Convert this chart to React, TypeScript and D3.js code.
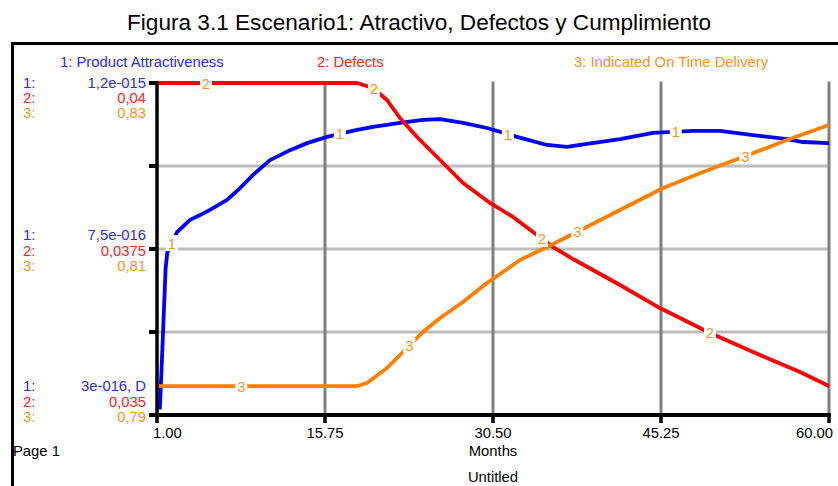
import React from 'react';
import * as d3 from 'd3';

const W = 838;
const H = 486;

const title = 'Figura 3.1 Escenario1: Atractivo, Defectos y Cumplimiento';
const seriesNames = ['1: Product Attractiveness', '2: Defects', '3: Indicated On Time Delivery'];

// Time axis (Months)
const xTicks = [1, 15.75, 30.5, 45.25, 60];

// Per-series scale labels: top, middle, bottom
const attractivenessScaleLabels = ['1,2e-015', '7,5e-016', '3e-016, D'];
const defectsScaleLabels = ['0,04', '0,0375', '0,035'];
const deliveryScaleLabels = ['0,83', '0,81', '0,79'];

// 1: Product Attractiveness
const attractivenessMonths = [
  1.25, 1.5, 1.75, 1.9, 2.76, 3.9, 4.78, 5.65, 7.15, 8.29, 9.43, 10.92, 12.68, 14.17, 15.93,
  18.56, 19.96, 22.33, 24.35, 25.85, 27.87, 29.97, 32.61, 35.24, 37.0, 38.75, 41.65, 44.55,
  48.06, 50.43, 53.33, 56.31, 57.72, 60,
];
const attractivenessValues = [
  3.15e-16, 5.0e-16, 6.95e-16, 7.4e-16, 7.96e-16, 8.29e-16, 8.42e-16, 8.56e-16, 8.83e-16,
  9.15e-16, 9.51e-16, 9.91e-16, 10.18e-16, 10.37e-16, 10.54e-16, 10.73e-16, 10.81e-16,
  10.92e-16, 11.0e-16, 11.02e-16, 10.92e-16, 10.78e-16, 10.54e-16, 10.32e-16, 10.27e-16,
  10.35e-16, 10.48e-16, 10.65e-16, 10.7e-16, 10.7e-16, 10.59e-16, 10.48e-16, 10.4e-16,
  10.37e-16,
];

// 2: Defects
const defectsMonths = [
  1, 18.56, 19.96, 21.19, 22.33, 23.83, 25.85, 27.87, 30.24, 32.26, 34.36, 35.77, 37.52,
  41.65, 45.16, 49.55, 53.94, 57.45, 60,
];
const defectsValues = [
  0.04, 0.04, 0.039925, 0.039744, 0.039473, 0.039187, 0.03884, 0.038494, 0.038193, 0.037982,
  0.037711, 0.03753, 0.037349, 0.036958, 0.036611, 0.036235, 0.035904, 0.035648, 0.035437,
];

// 3: Indicated On Time Delivery
const deliveryMonths = [
  1, 18.56, 19.44, 21.19, 22.6, 24.35, 25.85, 27.87, 29.97, 32.87, 35.24, 37.87, 41.65, 45.43,
  48.94, 52.45, 56.31, 60,
];
const deliveryValues = [
  0.79349, 0.79349, 0.79386, 0.79566, 0.79759, 0.8, 0.80169, 0.80361, 0.8059, 0.80867, 0.81024,
  0.81205, 0.8147, 0.81735, 0.81928, 0.82108, 0.82313, 0.82494,
];

const BLUE = '#0000ff';
const RED = '#ff0000';
const ORANGE = '#ff8000';
const BLUE_TXT = '#2a2aff';
const RED_TXT = '#ff2424';
const ORANGE_TXT = '#ff9224';
const FONT = '"Liberation Sans", Arial, sans-serif';

const left = 157;
const right = 829;
const top = 83;
const bottom = 415;

function valueAt(months: number[], values: number[], m: number): number {
  const i = d3.bisectLeft(months, m);
  if (i <= 0) return values[0];
  if (i >= months.length) return values[values.length - 1];
  const t = (m - months[i - 1]) / (months[i] - months[i - 1]);
  return values[i - 1] + t * (values[i] - values[i - 1]);
}

export default function App() {
  const x = d3.scaleLinear().domain([1, 60]).range([left, right]);

  const series = [
    {
      months: attractivenessMonths,
      values: attractivenessValues,
      y: d3.scaleLinear().domain([3e-16, 1.2e-15]).range([bottom, top]),
      color: BLUE,
      textColor: BLUE_TXT,
      labels: attractivenessScaleLabels,
      tag: '1',
      labelStart: 2.3,
    },
    {
      months: defectsMonths,
      values: defectsValues,
      y: d3.scaleLinear().domain([0.035, 0.04]).range([bottom, top]),
      color: RED,
      textColor: RED_TXT,
      labels: defectsScaleLabels,
      tag: '2',
      labelStart: 5.3,
    },
    {
      months: deliveryMonths,
      values: deliveryValues,
      y: d3.scaleLinear().domain([0.79, 0.83]).range([bottom, top]),
      color: ORANGE,
      textColor: ORANGE_TXT,
      labels: deliveryScaleLabels,
      tag: '3',
      labelStart: 8.4,
    },
  ];

  const gridY = d3.range(5).map((i) => series[0].y(3e-16 + (i * (1.2e-15 - 3e-16)) / 4));
  const fmt = d3.format('.2f');

  // scale label rows: top group starts at the top axis, middle group is centred, bottom ends at the axis
  const groupCenters = [
    [top, top + 15, top + 30],
    [gridY[2] - 14, gridY[2] + 1.5, gridY[2] + 17],
    [bottom - 29, bottom - 13.5, bottom + 2],
  ];

  const fs = 14.8;

  return (
    <div style={{ position: 'absolute', left: 0, top: 0 }}>
      <svg width={W} height={H} style={{ display: 'block', background: '#fff' }}>
        <text
          x={W / 2}
          y={30}
          textAnchor="middle"
          fontFamily={FONT}
          fontSize={22.6}
          fill="#000"
        >
          {title}
        </text>

        {/* page frame */}
        <rect x={12.5} y={43.5} width={900} height={500} fill="none" stroke="#000" strokeWidth={3} />

        {/* legend */}
        <text x={60} y={67} fontFamily={FONT} fontSize={fs} fill={BLUE_TXT}>
          {seriesNames[0]}
        </text>
        <text x={317} y={67} fontFamily={FONT} fontSize={fs} fill={RED_TXT}>
          {seriesNames[1]}
        </text>
        <text x={574} y={67} fontFamily={FONT} fontSize={fs} fill={ORANGE_TXT}>
          {seriesNames[2]}
        </text>

        {/* horizontal grid */}
        {gridY.slice(0, 4).map((gy, i) => (
          <line key={'h' + i} x1={left} x2={right} y1={gy} y2={gy} stroke="#bcbcbc" strokeWidth={3} />
        ))}
        {/* vertical grid */}
        {xTicks.slice(1).map((t, i) => (
          <line key={'v' + i} x1={x(t)} x2={x(t)} y1={top - 1.5} y2={bottom} stroke="#808080" strokeWidth={3} />
        ))}

        {/* series lines */}
        {series.map((s, si) => {
          const line = d3
            .line<number>()
            .x((_, i) => x(s.months[i]))
            .y((v) => s.y(v));
          return (
            <path
              key={'s' + si}
              d={line(s.values) || ''}
              fill="none"
              stroke={s.color}
              strokeWidth={3.8}
              strokeLinejoin="round"
            />
          );
        })}

        {/* line identifiers */}
        {series.map((s, si) =>
          d3.range(4).map((k) => {
            const m = s.labelStart + k * 14.75;
            const lx = x(m);
            const ly = s.y(valueAt(s.months, s.values, m));
            return (
              <g key={'tag' + si + '-' + k}>
                <rect x={lx - 6} y={ly - 8} width={12} height={16} fill="#fff" />
                <text
                  x={lx}
                  y={ly + 5.5}
                  textAnchor="middle"
                  fontFamily={FONT}
                  fontSize={fs}
                  fill={ORANGE_TXT}
                >
                  {s.tag}
                </text>
              </g>
            );
          })
        )}

        {/* axes */}
        <line x1={left} x2={left} y1={top - 2} y2={bottom + 2} stroke="#000" strokeWidth={3.5} />
        <line x1={left - 2} x2={right + 2} y1={bottom} y2={bottom} stroke="#000" strokeWidth={4} />
        {gridY.map((gy, i) => (
          <line key={'lt' + i} x1={left - 8} x2={left} y1={gy} y2={gy} stroke="#000" strokeWidth={4} />
        ))}
        {xTicks.map((t, i) => (
          <line key={'bt' + i} x1={x(t)} x2={x(t)} y1={bottom} y2={bottom + 8} stroke="#000" strokeWidth={3.5} />
        ))}

        {/* x tick labels */}
        {xTicks.map((t, i) => {
          const anchor = i === 0 ? 'start' : i === xTicks.length - 1 ? 'end' : 'middle';
          const dx = i === 0 ? -4 : i === xTicks.length - 1 ? 4 : 0;
          return (
            <text
              key={'xl' + i}
              x={x(t) + dx}
              y={438}
              textAnchor={anchor}
              fontFamily={FONT}
              fontSize={fs}
              fill="#000"
            >
              {fmt(t)}
            </text>
          );
        })}
        <text x={x(30.5)} y={456} textAnchor="middle" fontFamily={FONT} fontSize={fs} fill="#000">
          Months
        </text>
        <text x={x(30.5)} y={482} textAnchor="middle" fontFamily={FONT} fontSize={fs} fill="#000">
          Untitled
        </text>
        <text x={13} y={456} fontFamily={FONT} fontSize={fs} fill="#000">
          Page 1
        </text>

        {/* per-series scale labels */}
        {groupCenters.map((rows, gi) =>
          series.map((s, si) => (
            <g key={'sl' + gi + '-' + si}>
              <text x={23} y={rows[si] + 5.3} fontFamily={FONT} fontSize={fs} fill={s.textColor}>
                {s.tag + ':'}
              </text>
              <text x={146} y={rows[si] + 5.3} textAnchor="end" fontFamily={FONT} fontSize={fs} fill={s.textColor}>
                {s.labels[gi]}
              </text>
            </g>
          ))
        )}
      </svg>
    </div>
  );
}
